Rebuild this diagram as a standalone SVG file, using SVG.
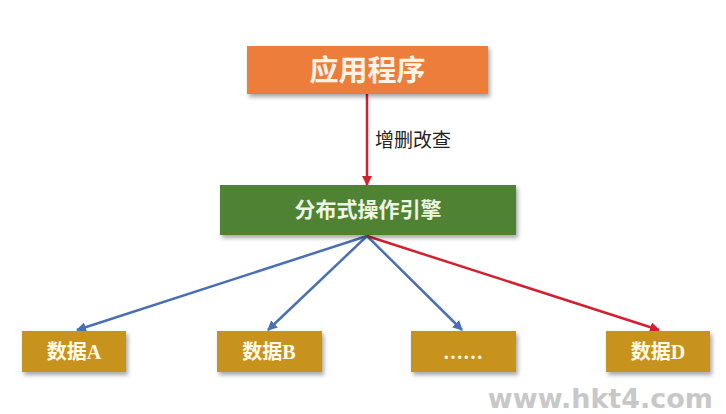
<svg xmlns="http://www.w3.org/2000/svg" width="726" height="414" viewBox="0 0 726 414">
<defs>
<style>
.cjk{font-family:"Noto Sans CJK SC","Liberation Sans",sans-serif;}
.data{font-family:"Liberation Serif","Noto Sans CJK SC",serif;font-weight:bold;font-size:20px;fill:#fffbe8;}
.dbox{fill:#C8931F;}
.blue{stroke:#4A6FB5;stroke-width:2.5;fill:none;marker-end:url(#ab);}
.red{stroke:#D2202E;stroke-width:2.5;fill:none;marker-end:url(#ar);}
</style>
<filter id="sh" x="-10%" y="-20%" width="130%" height="160%">
<feDropShadow dx="2" dy="3" stdDeviation="2" flood-color="#000" flood-opacity="0.35"/>
</filter>
<marker id="ab" viewBox="0 0 10 10" refX="9" refY="5" markerWidth="4" markerHeight="4" orient="auto"><path d="M0,0 L10,5 L0,10 z" fill="#4A6FB5"/></marker>
<marker id="ar" viewBox="0 0 10 10" refX="9" refY="5" markerWidth="4" markerHeight="4" orient="auto"><path d="M0,0 L10,5 L0,10 z" fill="#D2202E"/></marker>
</defs>
<rect width="726" height="414" fill="#ffffff"/>
<g id="connectors">
<line class="red" x1="367" y1="94" x2="367" y2="185"/>
<line class="blue" x1="367" y1="236" x2="77" y2="330"/>
<line class="blue" x1="367" y1="236" x2="268" y2="330"/>
<line class="blue" x1="367" y1="236" x2="462" y2="330"/>
<line class="red" x1="367" y1="236" x2="659" y2="330"/>
<text class="cjk" x="375" y="147" font-size="19" fill="#222">增删改查</text>
</g>
<g id="app">
<rect x="247" y="46" width="241" height="48" fill="#EC7D3A" filter="url(#sh)"/>
<text class="cjk" x="367.5" y="81" font-size="29" font-weight="bold" fill="#fdf3e6" text-anchor="middle">应用程序</text>
</g>
<g id="engine">
<rect x="220" y="185" width="296" height="50" fill="#4F8230" filter="url(#sh)"/>
<text class="cjk" x="368" y="217" font-size="21" font-weight="bold" fill="#eef5e3" text-anchor="middle">分布式操作引擎</text>
</g>
<g id="dataA">
<rect class="dbox" x="22" y="331" width="104" height="41" filter="url(#sh)"/>
<text class="data" x="74" y="359" text-anchor="middle">数据A</text>
</g>
<g id="dataB">
<rect class="dbox" x="217" y="331" width="105" height="41" filter="url(#sh)"/>
<text class="data" x="269" y="359" text-anchor="middle">数据B</text>
</g>
<g id="dataC">
<rect class="dbox" x="411" y="331" width="105" height="41" filter="url(#sh)"/>
<text class="data" x="463" y="359" text-anchor="middle">……</text>
</g>
<g id="dataD">
<rect class="dbox" x="606" y="331" width="104" height="41" filter="url(#sh)"/>
<text class="data" x="658" y="359" text-anchor="middle">数据D</text>
</g>
<text x="713" y="408" font-family="DejaVu Sans,sans-serif" font-weight="bold" font-size="27" fill="#c8c8c8" text-anchor="end">www.hkt4.com</text>
</svg>
